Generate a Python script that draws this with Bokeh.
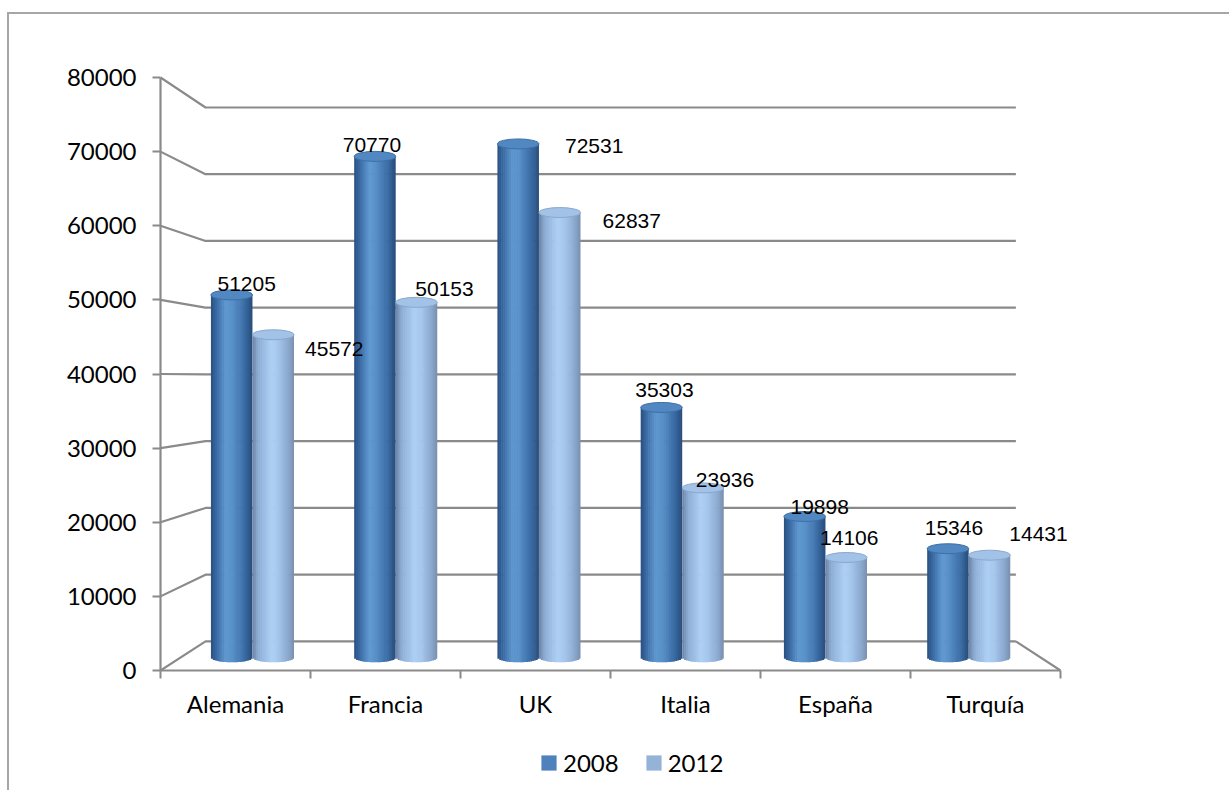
import numpy as np
from bokeh.plotting import figure
from bokeh.layouts import column
from bokeh.models import Range1d, FixedTicker, Legend, LegendItem
from bokeh.core.properties import value
from bokeh.embed import file_html
from bokeh.resources import INLINE

# ---------------- data ----------------
categories = ["Alemania", "Francia", "UK", "Italia", "España", "Turquía"]
series_names = ["2008", "2012"]
values_2008 = [51205, 70770, 72531, 35303, 19898, 15346]
values_2012 = [45572, 50153, 62837, 23936, 14106, 14431]
y_ticks = [0, 10000, 20000, 30000, 40000, 50000, 60000, 70000, 80000]
y_tick_labels = ["0", "10000", "20000", "30000", "40000", "50000", "60000", "70000", "80000"]

# label offsets (screen px) relative to each cylinder top
label_dx_2008 = [15, -3, 76, 3, 15, 6]
label_dy_2008 = [-11, -11, 2, -17, -10, -21]
label_dx_2012 = [61, 28, 72, 22, 3, 49]
label_dy_2012 = [14, -13, 8, -8, -20, -21]

# ---------------- style / geometry ----------------
W, H = 1229, 790
H_MAIN = 740
FL, FR, FT, FB = 160, 1100, 40, 670
PX_PER_CAT = 150.0
PX_PER_Y = 593.0 / 80000.0
DY = 1.0 / PX_PER_Y
DX = 1.0 / PX_PER_CAT
n_cat = len(categories)
x_end = (FR - FL) / PX_PER_CAT
y_end = (FB - FT) * DY
VPX = (612 - FL) / PX_PER_CAT
VPY = (FB - 378) * DY
T_BACK = 0.0996
T_BAR = 0.045
BAR_W = 0.29
N_STRIP = 22
GRID = "#8a8a8a"
BORDER = "#a6a6a6"

def proj(x, y, t):
    return x + t * (VPX - x), y + t * (VPY - y)

def hex2rgb(h):
    h = h.lstrip("#")
    return np.array([int(h[i:i + 2], 16) for i in (0, 2, 4)], dtype=float)

def interp_color(stops, u):
    pos = [s[0] for s in stops]
    cols = [hex2rgb(s[1]) for s in stops]
    for k in range(len(pos) - 1):
        if pos[k] <= u <= pos[k + 1]:
            f = (u - pos[k]) / (pos[k + 1] - pos[k])
            c = cols[k] * (1 - f) + cols[k + 1] * f
            return "#%02x%02x%02x" % tuple(int(round(v)) for v in c)
    return stops[-1][1]

profiles = [
    [(0.0, "#284f7f"), (0.12, "#3867a0"), (0.36, "#5f98d0"), (0.52, "#5890c8"),
     (0.8, "#3b6da6"), (1.0, "#284c7a")],
    [(0.0, "#6b82a2"), (0.14, "#8eaed6"), (0.45, "#aed0f4"), (0.62, "#a6c6ec"),
     (0.86, "#8ba8ce"), (1.0, "#788eae")],
]
top_colors = ["#5288c2", "#a3c2e7"]
top_lines = ["#3e6fa6", "#8aa8cc"]
legend_colors = ["#4f81bd", "#95b3d7"]

p = figure(width=W, height=H_MAIN, output_backend="svg", toolbar_location=None,
           x_range=Range1d(0, x_end), y_range=Range1d(0, y_end),
           min_border_left=FL, min_border_right=W - FR,
           min_border_top=FT, min_border_bottom=H_MAIN - FB,
           styles={"box-shadow": "inset 7px 12px 0 0 #ffffff, inset 9px 14px 0 0 " + BORDER})
p.grid.visible = False
p.outline_line_color = None
p.background_fill_alpha = 0
p.border_fill_alpha = 0

# ---------------- back wall gridlines & floor ----------------
gx, gy = [], []
for v in y_ticks:
    bx0, by = proj(0, v, T_BACK)
    bx1, _ = proj(n_cat, v, T_BACK)
    gx.append([0, bx0, bx1])
    gy.append([v, by, by])
fx1, fy1 = proj(n_cat, 0, T_BACK)
gx.append([n_cat, fx1])
gy.append([0, fy1])
p.multi_line(gx, gy, line_color=GRID, line_width=2.2)

# ---------------- cylinders ----------------
series_values = [values_2008, values_2012]
label_dx = [label_dx_2008, label_dx_2012]
label_dy = [label_dy_2008, label_dy_2012]
half_h = 5 * DY
overlap = 0.6 * DX
for j, vals in enumerate(series_values):
    L, R, T, B, C = [], [], [], [], []
    ex, ey, ew = [], [], []
    for i, v in enumerate(vals):
        cx = i + 0.5 + (j - 0.5) * BAR_W
        pxc, base = proj(cx, 0, T_BAR)
        _, top = proj(cx, v, T_BAR)
        wp = BAR_W * (1 - T_BAR)
        for k in range(N_STRIP):
            u = (k + 0.5) / N_STRIP
            s = np.sqrt(max(0.0, 1 - (2 * u - 1) ** 2))
            L.append(pxc - wp / 2 + k * wp / N_STRIP)
            R.append(pxc - wp / 2 + (k + 1) * wp / N_STRIP + (overlap if k < N_STRIP - 1 else 0))
            T.append(top)
            B.append(base - half_h * s)
            C.append(interp_color(profiles[j], u))
        ex.append(pxc); ey.append(top); ew.append(wp)
    p.quad(left=L, right=R, top=T, bottom=B, fill_color=C, line_color=None)
    p.ellipse(x=ex, y=ey, width=ew, height=10, height_units="screen",
              fill_color=top_colors[j], line_color=top_lines[j], line_width=1)
    p.text(x=ex, y=ey, text=[str(v) for v in vals],
           x_offset=label_dx[j], y_offset=label_dy[j],
           text_align="center", text_baseline="middle",
           text_font=value("Liberation Sans"), text_font_size="21px", text_color="black")

# ---------------- axes ----------------
yax = p.yaxis[0]
yax.ticker = FixedTicker(ticks=y_ticks)
yax.major_label_overrides = {t: lab for t, lab in zip(y_ticks, y_tick_labels)}
yax.bounds = (y_ticks[0], y_ticks[-1])
yax.axis_line_color = GRID
yax.axis_line_width = 2.2
yax.major_tick_line_color = GRID
yax.major_tick_line_width = 2
yax.major_tick_out = 8
yax.major_tick_in = 0
yax.minor_tick_line_color = None
yax.major_label_text_font = "Lato"
yax.major_label_text_font_size = "24px"
yax.major_label_text_color = "black"
yax.major_label_standoff = 16

xax = p.xaxis[0]
centers = [i + 0.5 for i in range(n_cat)]
xax.ticker = FixedTicker(ticks=centers, minor_ticks=list(range(n_cat + 1)))
xax.major_label_overrides = {c: name for c, name in zip(centers, categories)}
xax.bounds = (0, n_cat)
xax.axis_line_color = GRID
xax.axis_line_width = 2.2
xax.major_tick_line_color = None
xax.major_tick_out = 0
xax.major_tick_in = 0
xax.minor_tick_line_color = GRID
xax.minor_tick_line_width = 2
xax.minor_tick_out = 8
xax.minor_tick_in = 0
xax.major_label_text_font = "Lato"
xax.major_label_text_font_size = "24px"
xax.major_label_text_color = "black"
xax.major_label_standoff = 10

# ---------------- legend strip (second figure) ----------------
H_LEG = H - H_MAIN
pl = figure(width=W, height=H_LEG, output_backend="svg", toolbar_location=None,
            x_range=Range1d(0, W), y_range=Range1d(0, H_LEG),
            min_border=0, x_axis_location=None, y_axis_location=None,
            styles={"box-shadow": "inset 7px 0 0 0 #ffffff, inset 9px 0 0 0 " + BORDER})
pl.grid.visible = False
pl.outline_line_color = None
pl.background_fill_alpha = 0
pl.border_fill_alpha = 0
lr = [pl.quad(left=[-1000], right=[-999], top=[1], bottom=[0], fill_color=c, line_color=None)
      for c in legend_colors]
legend = Legend(items=[LegendItem(label=n, renderers=[r]) for n, r in zip(series_names, lr)],
                orientation="horizontal", location=(379, 13),
                glyph_width=19, glyph_height=19, label_standoff=5, spacing=25,
                padding=0, margin=0, border_line_color=None, background_fill_alpha=0,
                label_text_font="Lato", label_text_font_size="24px", label_text_color="black")
pl.add_layout(legend, "center")

layout = column(p, pl, spacing=0)
open("out.html", "w").write(file_html(layout, INLINE))
